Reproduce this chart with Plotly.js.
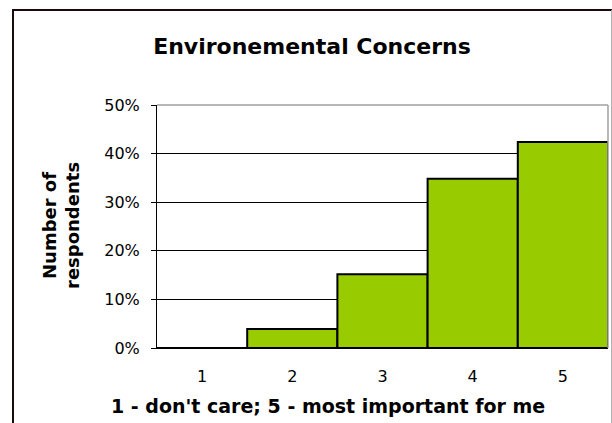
<!DOCTYPE html>
<html>
<head>
<meta charset="utf-8">
<script src="https://cdn.plot.ly/plotly-3.0.1.min.js"></script>
<style>
  html, body { margin: 0; padding: 0; background: #ffffff; }
  #chart { width: 612px; height: 423px; }
</style>
</head>
<body>
<div id="chart"></div>
<script>
const categories = ["1", "2", "3", "4", "5"];
const shares = [0, 3.9, 15.2, 34.8, 42.4];
const titleText = "Environemental Concerns";
const xTitleText = "1 - don't care; 5 - most important for me";
const yTitleText = "Number of<br>respondents";

const L = 157, R = 4, T = 105, B = 75;
const W = 612 - L - R, H = 423 - T - B;
const px = x => (x - L) / W;
const py = y => (423 - B - y) / H;

const trace = {
  type: "bar",
  x: categories,
  y: shares,
  marker: { color: "#99cc00", line: { color: "#000000", width: 2 } },
  hoverinfo: "skip"
};

const layout = {
  width: 612, height: 423,
  margin: { l: L, r: R, t: T, b: B, pad: 0 },
  paper_bgcolor: "#ffffff",
  plot_bgcolor: "#ffffff",
  showlegend: false,
  bargap: 0,
  font: { family: "DejaVu Sans, Verdana, sans-serif", color: "#000000" },
  title: {
    text: "<b>" + titleText + "</b>",
    font: { size: 22, family: "DejaVu Sans, Verdana, sans-serif", color: "#000000" },
    xref: "paper", x: px(312), xanchor: "center",
    yref: "container", y: 1 - 46 / 423, yanchor: "middle"
  },
  xaxis: {
    type: "category",
    showgrid: false,
    showline: true, linecolor: "#000000", linewidth: 1,
    ticks: "", tickfont: { size: 16 },
    ticklabelstandoff: 14,
    zeroline: false
  },
  yaxis: {
    range: [0, 50], dtick: 10, tick0: 0,
    ticksuffix: "%",
    showgrid: true, gridcolor: "#000000", gridwidth: 1,
    showline: true, linecolor: "#000000", linewidth: 1,
    ticks: "outside", ticklen: 5, tickcolor: "#000000",
    tickfont: { size: 16 },
    ticklabelstandoff: 8,
    zeroline: false
  },
  annotations: [
    {
      text: "<b>" + xTitleText + "</b>",
      xref: "paper", yref: "paper",
      x: px(328), y: py(406), xanchor: "center", yanchor: "middle",
      showarrow: false, font: { size: 19 }
    },
    {
      text: "<b>" + yTitleText + "</b>",
      xref: "paper", yref: "paper",
      x: px(61), y: py(226), xanchor: "center", yanchor: "middle",
      textangle: -90, showarrow: false, font: { size: 18 }
    }
  ],
  shapes: [
    { type: "line", xref: "paper", yref: "paper", x0: 0, x1: 1, y0: 1, y1: 1,
      line: { color: "#a0a0a0", width: 1.5 }, layer: "above" },
    { type: "line", xref: "paper", yref: "paper", x0: 1, x1: 1, y0: 0, y1: 1,
      line: { color: "#a0a0a0", width: 1.5 }, layer: "above" },
    { type: "line", xref: "paper", yref: "paper", x0: px(12), x1: px(612), y0: py(10), y1: py(10),
      line: { color: "#1a0a0a", width: 2 }, layer: "above" },
    { type: "line", xref: "paper", yref: "paper", x0: px(13), x1: px(13), y0: py(10), y1: py(430),
      line: { color: "#1a0a0a", width: 2 }, layer: "above" },
    { type: "line", xref: "paper", yref: "paper", x0: px(611.5), x1: px(611.5), y0: py(10), y1: py(430),
      line: { color: "#b0b0b0", width: 1 }, layer: "above" }
  ]
};

Plotly.newPlot("chart", [trace], layout, { staticPlot: true, displayModeBar: false });
</script>
</body>
</html>
